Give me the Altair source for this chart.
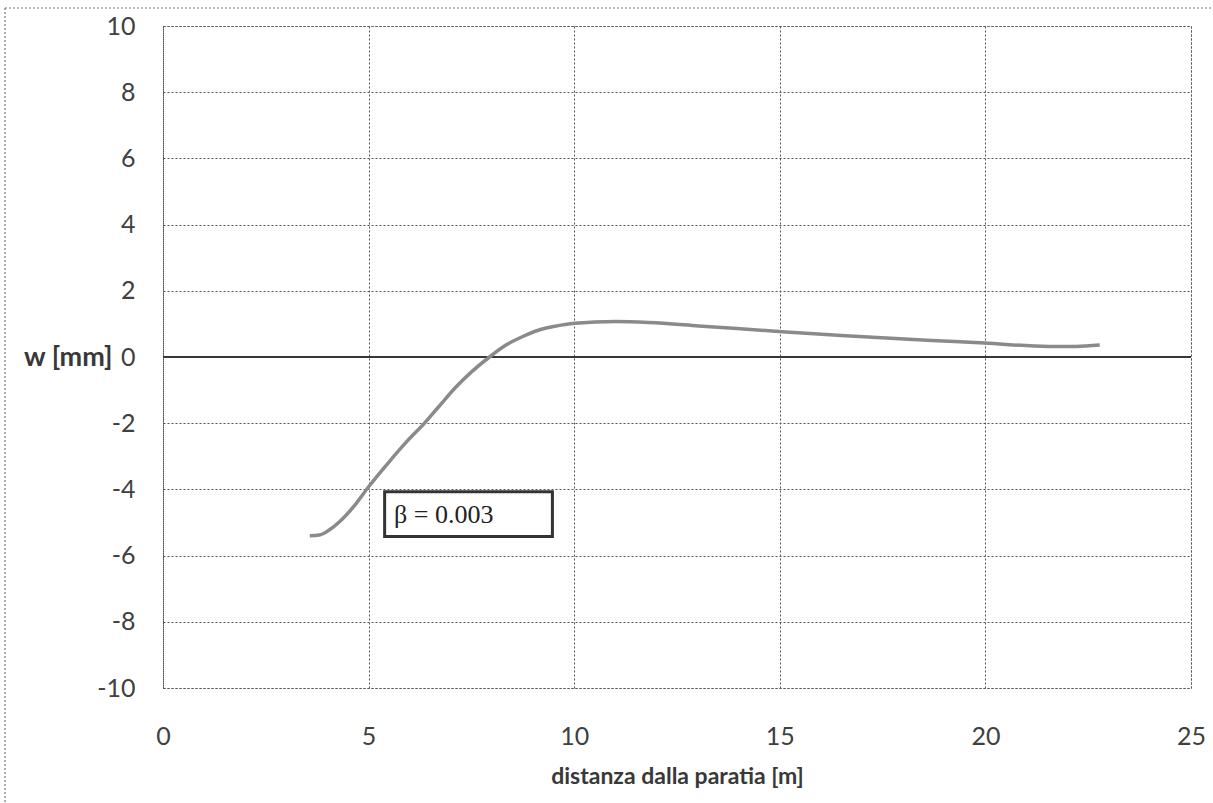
import altair as alt
import pandas as pd

# curve
dist = [3.57, 3.80, 4.05, 4.30, 4.65, 5.0, 5.51, 5.91, 6.36, 6.72, 7.13, 7.53, 7.94,
        8.34, 8.75, 9.11, 9.50, 10.02, 11.01, 11.82, 13.03, 14.98, 16.6, 18.7,
        19.98, 21.53, 22.20, 22.78]
w = [-5.40, -5.38, -5.22, -4.97, -4.50, -3.92, -3.15, -2.58, -2.0, -1.48, -0.90,
     -0.42, 0.0, 0.36, 0.62, 0.80, 0.92, 1.02, 1.07, 1.04, 0.94, 0.77, 0.64, 0.50,
     0.42, 0.32, 0.32, 0.36]

x_ticks = [0, 5, 10, 15, 20, 25]
y_ticks = [-10, -8, -6, -4, -2, 0, 2, 4, 6, 8, 10]

label_text = ["β = 0.003"]
box_x = [5.39]
box_x2 = [9.47]
box_y = [-4.07]
box_y2 = [-5.42]
text_x = [5.62]
text_y = [-4.76]

curve = pd.DataFrame({"x": dist, "w": w})
box = pd.DataFrame({"x": box_x, "x2": box_x2, "y": box_y, "y2": box_y2})
txt = pd.DataFrame({"x": text_x, "y": text_y, "t": label_text})
zero = pd.DataFrame({"y": [0]})

FONT = "Lato"
GREY = "#404040"

xs = alt.Scale(domain=[0, 25], nice=False, zero=False)
ys = alt.Scale(domain=[-10, 10], nice=False, zero=False)

xaxis = alt.Axis(values=x_ticks, title="distanza dalla paratia [m]", ticks=False, domain=False,
                 labelFont=FONT, labelFontSize=25, labelColor=GREY, labelPadding=36,
                 labelBaseline="top", labelFlush=False, labelExpr="'' + datum.value",
                 titleFont=FONT, titleFontSize=23, titleFontWeight="bold", titleColor="#383838",
                 titleY=95, titleBaseline="alphabetic",
                 grid=True, gridColor="#555555", gridDash=[2, 2], gridWidth=1)
yaxis = alt.Axis(values=y_ticks, title="w [mm]", ticks=False, domain=False,
                 labelFont=FONT, labelFontSize=25, labelColor=GREY, labelPadding=28,
                 labelFlush=False, labelExpr="'' + datum.value",
                 titleFont=FONT, titleFontSize=27, titleFontWeight="bold", titleColor="#383838",
                 titleAngle=0, titleX=-51, titleY=331, titleAlign="right", titleBaseline="middle",
                 grid=True, gridColor="#555555", gridDash=[2, 2], gridWidth=1)

base_line = alt.Chart(curve).mark_line(color="#8a8a8a", strokeWidth=3.5, interpolate="monotone").encode(
    x=alt.X("x:Q", scale=xs, axis=xaxis),
    y=alt.Y("w:Q", scale=ys, axis=yaxis),
)

zero_rule = alt.Chart(zero).mark_rule(color="#383838", strokeWidth=2.2).encode(
    y=alt.Y("y:Q", scale=ys)
)

rect = alt.Chart(box).mark_rect(fill="white", stroke="#333333", strokeWidth=3).encode(
    x=alt.X("x:Q", scale=xs), x2="x2:Q", y=alt.Y("y:Q", scale=ys), y2="y2:Q"
)

text = alt.Chart(txt).mark_text(font="Liberation Serif", fontSize=26, color="#222222",
                                align="left", baseline="middle").encode(
    x=alt.X("x:Q", scale=xs), y=alt.Y("y:Q", scale=ys), text="t:N"
)

# outer dotted frame of the figure
frame_top = alt.Chart(zero).mark_rule(color="#777777", strokeDash=[2, 2], strokeWidth=1.2, clip=False).encode(
    x=alt.value(-158), x2=alt.value(1060), y=alt.value(-18)
)
frame_left = alt.Chart(zero).mark_rule(color="#777777", strokeDash=[2, 2], strokeWidth=1.2, clip=False).encode(
    x=alt.value(-158), y=alt.value(-18), y2=alt.value(800)
)

chart = alt.layer(zero_rule, base_line, rect, text, frame_top, frame_left).properties(
    width=1028, height=662,
    autosize=alt.AutoSizeParams(type="none"),
    padding={"left": 163, "top": 26, "right": 22, "bottom": 115},
    background="white",
).configure_view(stroke="#555555", strokeDash=[2, 2], strokeWidth=1)

chart.save("out.html", embed_options={"renderer": "svg", "actions": False})
